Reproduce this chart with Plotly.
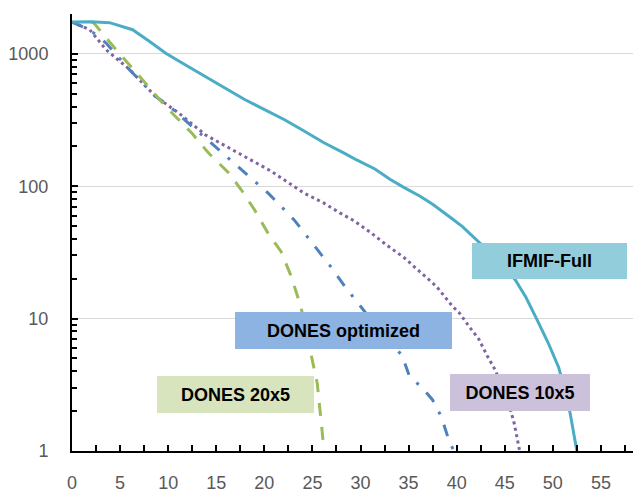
import numpy as np
import plotly.graph_objects as go

# ---------------- data ----------------
ifmif_x = [0, 2, 3.9, 5, 6.3, 8, 9.75, 11.5, 13.2, 15.9, 18.0, 20, 22.1, 24, 26.2,
           28.3, 29.6, 31.5, 33.06, 34.5, 36.2, 37.5, 38.5, 39.5, 40.6, 41.5, 42.3,
           44.0, 46.1, 47.2, 48.3, 49.5, 50.6, 51.3, 51.8, 52.2, 52.5]
ifmif_y = [1740, 1750, 1720, 1620, 1521, 1250, 1010, 850, 716, 552, 450, 380, 318, 265, 213,
           178, 158, 135, 113, 98, 84, 73, 64, 57, 49.5, 43, 38.5,
           29, 19.6, 14.5, 10, 6.6, 4.3, 2.8, 1.93, 1.35, 1.0]

d10_x = [0, 1.85, 3.57, 6.0, 8.7, 11.1, 13.85, 17.3, 20.7, 24.1, 26.2, 27.9, 29.3, 31.0,
         32.7, 34.5, 36.2, 37.9, 39.6, 40.3, 41.3, 42.3, 43.2, 44.0, 44.8, 45.6, 46.0,
         46.45, 46.55]
d10_y = [1740, 1520, 1070, 760, 476, 357, 245, 178, 130, 89, 74.5, 62.6, 55, 45,
         36, 29, 22.5, 17.5, 12.3, 11, 8.7, 7.0, 5.2, 4.1, 3.0, 2.04, 1.6,
         1.07, 1.0]

dopt_x = [0, 1.85, 3.57, 5.97, 8.7, 10.0, 12.1, 14.9, 17.6, 20.4, 23.1, 25.5, 26.9, 28.5,
          30.3, 32.2, 34.3, 35.1, 36.3, 37.5, 38.4, 39.3, 39.75]
dopt_y = [1740, 1520, 1200, 760, 476, 410, 300, 200, 133, 88.7, 55.7, 33, 24.7, 17,
          11.6, 7.8, 5.3, 3.65, 3.06, 2.43, 1.82, 1.14, 1.0]

d20_x = [2.0, 2.3, 4.6, 7.35, 9.75, 12.5, 14.2, 16.3, 17.6, 19.0, 20.4, 21.75, 22.8, 23.8,
         24.8, 25.5, 26.0, 26.2]
d20_y = [1750, 1700, 1073, 637, 400, 250, 178, 126, 94, 66, 44, 32, 20.8, 12.3,
         5.8, 3.25, 1.44, 1.0]

x_ticks = [0, 5, 10, 15, 20, 25, 30, 35, 40, 45, 50, 55]
y_ticks = [1, 10, 100, 1000]
y_ticklabels = ["1", "10", "100", "1000"]

labels = ["IFMIF-Full", "DONES optimized", "DONES 20x5", "DONES 10x5"]

# ---------------- figure ----------------
fig = go.Figure()
fig.add_trace(go.Scatter(x=d10_x, y=d10_y, mode="lines",
                         line=dict(color="#8064a2", width=3, dash="3px,3.5px")))
fig.add_trace(go.Scatter(x=dopt_x, y=dopt_y, mode="lines",
                         line=dict(color="#4f81bd", width=3, dash="12px,11px,3px,11px")))
fig.add_trace(go.Scatter(x=d20_x, y=d20_y, mode="lines",
                         line=dict(color="#9bbb59", width=3, dash="13px,11px")))
fig.add_trace(go.Scatter(x=ifmif_x, y=ifmif_y, mode="lines",
                         line=dict(color="#4bacc6", width=3)))

minor_y = [m * 10 ** e for e in range(0, 4) for m in range(2, 10)] + [2000]

box_specs = [
    (labels[0], 49.61, 1.435, 155, 36, "#92cddc"),
    (labels[1], 28.22, 0.912, 217, 37, "#8db3e2"),
    (labels[2], 17.02, 0.427, 157, 37, "#d7e4bd"),
    (labels[3], 46.57, 0.442, 140, 37, "#ccc1da"),
]
for txt, ax_, ay_, w, h, col in box_specs:
    fig.add_annotation(x=ax_, y=ay_, xref="x", yref="y", text="<b>%s</b>" % txt,
                       showarrow=False, xanchor="center", yanchor="middle",
                       width=w, height=h, bgcolor=col, borderpad=0, borderwidth=0,
                       font=dict(family="Liberation Sans, Arial, sans-serif", size=18,
                                 color="#000000"))

tickfont = dict(family="Liberation Sans, Arial, sans-serif", size=18, color="#595959")

fig.update_layout(
    width=641, height=494,
    margin=dict(l=57, r=0, t=6, b=51),
    paper_bgcolor="white", plot_bgcolor="white",
    showlegend=False,
    xaxis=dict(range=[0, 60], tickvals=x_ticks, ticks="inside", ticklen=6,
               tickwidth=1.5, tickcolor="#000", showline=True, linecolor="#000",
               linewidth=2, showgrid=False, zeroline=False, tickfont=tickfont,
               ticklabelstandoff=14,
               minor=dict(dtick=2.5, tick0=0, ticks="inside", ticklen=6, tickwidth=1.5,
                          tickcolor="#000", showgrid=False)),
    yaxis=dict(type="log", range=[0, np.log10(2000)], tickvals=y_ticks,
               ticktext=y_ticklabels, ticks="inside", ticklen=6, tickwidth=1.5,
               tickcolor="#000", showline=True, linecolor="#000", linewidth=2,
               showgrid=True, gridcolor="#d9d9d9", gridwidth=1, zeroline=False,
               tickfont=tickfont, ticklabelstandoff=18,
               minor=dict(tickvals=minor_y, ticks="inside", ticklen=5, tickwidth=1.5,
                          tickcolor="#000", showgrid=False)),
)

fig.write_html("out.html")
